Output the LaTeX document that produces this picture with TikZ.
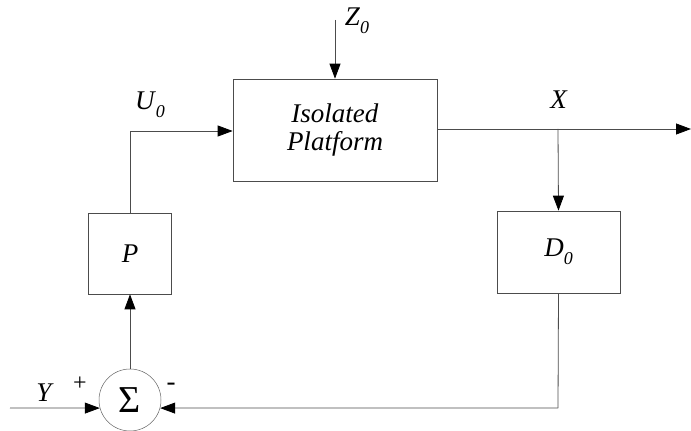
\documentclass[tikz,border=0pt]{standalone}
\usepackage{fontspec}
\setmainfont{Liberation Serif}
\usepackage{tikz}
\usetikzlibrary{arrows.meta, positioning, calc}
\newcommand{\Signal}[2]{\textit{#1}\raisebox{-0.3em}{\fontsize{18}{21}\selectfont\textit{#2}}}
\tikzset{
    block/.style={draw=black!70, line width=0.7pt, fill=none, align=center, inner sep=0pt},
    sumnode/.style={circle, draw=black!60, line width=0.5pt, minimum size=62pt, inner sep=0pt},
    flow/.style={draw=black!70, line width=0.8pt, -{Triangle[length=15pt, width=11pt, color=black]}},
    wire/.style={draw=black!70, line width=0.8pt},
    hide/.style={draw=none, fill=none},
}

\begin{document}
\begin{tikzpicture}[x=1pt, y=1pt, font=\fontsize{27}{30}\selectfont]
    \useasboundingbox (0,0) rectangle (691,431);

    \node[block, minimum width=204pt, minimum height=102pt] (plat) at (335,301) {\textit{Isolated}\\[-2pt]\textit{Platform}};
    \node[block, minimum width=83pt, minimum height=81pt] (P) at (130,177.5) {\textit{P}};
    \node[block, minimum width=123pt, minimum height=82pt] (D) at (558.5,179) {\Signal{D}{0}};
    \node[sumnode] (sum) at (130,31) {\raisebox{-6pt}{\fontsize{38}{40}\selectfont Σ}};

    \coordinate (zin) at (335,411);
    \coordinate (yin) at (10,23);
    \coordinate (uturn) at (130,300);
    \coordinate (xsplit) at (558,302);
    \coordinate (xout) at (691,302);
    \coordinate (fturn) at (558,23);

    \node[hide] (zlbl) at (357,410) {\Signal{Z}{0}};
    \node[hide] (ulbl) at (150,326) {\Signal{U}{0}};
    \node[hide] (xlbl) at (559,331) {\textit{X}};
    \node[hide] (ylbl) at (45,38) {\textit{Y}};
    \node[hide, font=\fontsize{24}{26}\selectfont] (plus) at (80,47) {+};
    \node[hide] (minus) at (171,44) {-};

    \draw[flow] (zin) -- (plat.north);
    \draw[flow] (yin) -- (sum.195);
    \draw[flow] (sum.north) -- (P.south);
    \draw[wire] (P.north) -- (uturn);
    \draw[flow] (uturn) -- (uturn -| plat.west);
    \draw[wire] (plat.east |- xsplit) -- (xsplit);
    \draw[flow] (xsplit) -- (xout);
    \draw[flow] (xsplit) -- (D.north);
    \draw[wire] (D.south) -- (fturn);
    \draw[flow] (fturn) -- (sum.345);
\end{tikzpicture}
\end{document}
